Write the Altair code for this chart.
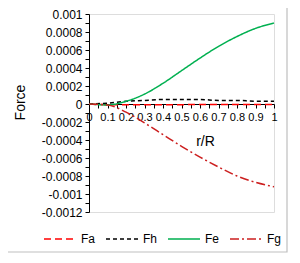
import altair as alt
import pandas as pd

r = [0, 0.1, 0.2, 0.3, 0.4, 0.5, 0.6, 0.7, 0.8, 0.9, 1.0]
Fa = [0, -0.000008, -0.000008, -0.000008, -0.000007, -0.000007, -0.000006, -0.000006, -0.000005, -0.000005, -0.000005]
Fh = [0, 0.00001, 0.00003, 0.00004, 0.00005, 0.00005, 0.00005, 0.00004, 0.00004, 0.00003, 0.00003]
Fe = [0, -0.00001, 0.00003, 0.00011, 0.00023, 0.00037, 0.00051, 0.00064, 0.00075, 0.00084, 0.0009]
Fg = [0, -0.00001, -0.00009, -0.00021, -0.00034, -0.00047, -0.00059, -0.0007, -0.0008, -0.00087, -0.00092]

series_names = ["Fa", "Fh", "Fe", "Fg"]
series_colors = ["#FF0000", "#000000", "#00B050", "#CC1F1F"]
series_dash = [[7, 4], [4, 3], [1, 0], [9, 3, 2, 3]]

x_ticks = [round(i * 0.05, 2) for i in range(21)]
y_ticks = [round(-0.0012 + i * 0.0001, 4) for i in range(23)]

rows = []
for name, vals in zip(series_names, [Fa, Fh, Fe, Fg]):
    for rv, v in zip(r, vals):
        rows.append({"r": rv, "F": v, "series": name})
df = pd.DataFrame(rows)

font = "Liberation Sans"

legend_opts = dict(title=None, orient="none", direction="horizontal",
                   legendX=-46, legendY=208, symbolType="stroke",
                   symbolSize=1024, symbolStrokeWidth=1.5,
                   labelFont=font, labelFontSize=12, labelColor="#000000",
                   columnPadding=7, labelOffset=4, padding=0)

lines = alt.Chart(df).mark_line(strokeWidth=1.5, interpolate="monotone").encode(
    x=alt.X("r:Q", scale=alt.Scale(domain=[0, 1], nice=False),
            axis=alt.Axis(values=x_ticks, title="r/R", offset=-108,
                          labelExpr="(round(datum.value*100) % 10 == 0) ? format(datum.value, '~g') : ''",
                          labelOverlap=False, labelFlush=False, labelPadding=3,
                          tickSize=4, grid=False, domainColor="#000000", tickColor="#000000",
                          labelFont=font, labelFontSize=11, labelColor="#000000",
                          titleFont=font, titleFontSize=14, titleFontWeight="normal",
                          titleColor="#000000", titleX=116, titleY=30)),
    y=alt.Y("F:Q", scale=alt.Scale(domain=[-0.0012, 0.001], nice=False, zero=False),
            axis=alt.Axis(values=y_ticks, title="Force",
                          labelExpr="(round(datum.value*10000) % 2 == 0) ? ((datum.value < 0 ? '-' : '') + format(abs(datum.value), '~g')) : ''",
                          labelOverlap=False, labelPadding=3, tickSize=4, grid=False,
                          domainColor="#000000", tickColor="#000000",
                          labelFont=font, labelFontSize=12, labelColor="#000000",
                          titleFont=font, titleFontSize=14, titleFontWeight="normal",
                          titleColor="#000000", titleX=-69, titleY=88,
                          titleBaseline="middle")),
    color=alt.Color("series:N", scale=alt.Scale(domain=series_names, range=series_colors),
                    legend=alt.Legend(**legend_opts)),
    strokeDash=alt.StrokeDash("series:N", scale=alt.Scale(domain=series_names, range=series_dash),
                              legend=alt.Legend(**legend_opts)),
    order=alt.Order("r:Q"),
)

frame = alt.Chart(pd.DataFrame({"k": [0]})).mark_rect(
    fill=None, stroke="#BFBFBF", strokeWidth=1.2
).encode(
    x=alt.value(-82), x2=alt.value(198), y=alt.value(-9), y2=alt.value(238)
)

chart = alt.layer(frame, lines).properties(
    width=185, height=198,
    autosize=alt.AutoSizeParams(type="none"),
    padding={"left": 81, "top": 6, "right": 16, "bottom": 42},
).configure_view(stroke=None).configure(background="#FFFFFF")

chart.save("out.html", embed_options={"renderer": "svg", "actions": False})
